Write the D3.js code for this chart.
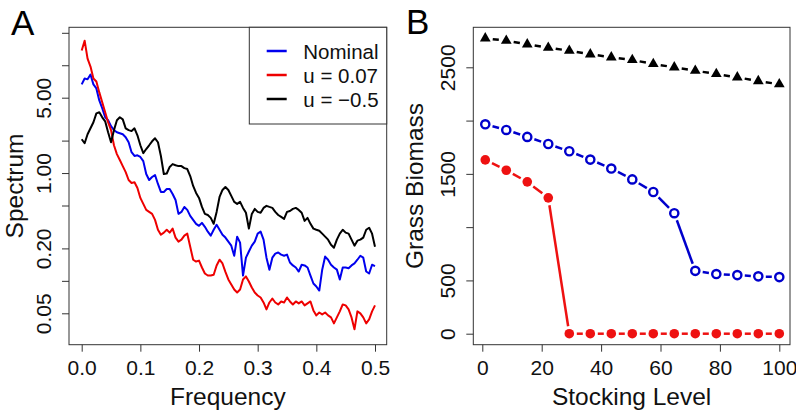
<!DOCTYPE html>
<html lang="en">
<head>
<meta charset="UTF-8">
<title>Spectrum and Grass Biomass</title>
<script src="https://d3js.org/d3.v7.min.js"></script>
<style>
  body { margin: 0; background: #fff; }
  svg { display: block; font-family: "Liberation Sans", Arial, sans-serif; }
  .tick line { stroke: #333; }
  .tick text { font-size: 21px; fill: #111; }
  .title { font-size: 24.5px; fill: #111; }
  .panel { font-size: 35px; fill: #000; }
  .legend text { font-size: 20.5px; fill: #111; }
</style>
</head>
<body>
<svg id="chart" width="796" height="412"></svg>
<script>
// Panel A: smoothed spectra (frequency grid 0 .. 0.5)
const freq = [0, .005, .01, .015, .02, .025, .03, .035, .04, .045,
  .05, .055, .06, .065, .07, .075, .08, .085, .09, .095,
  .1, .105, .11, .115, .12, .125, .13, .135, .14, .145,
  .15, .155, .16, .165, .17, .175, .18, .185, .19, .195,
  .2, .205, .21, .215, .22, .225, .23, .235, .24, .245,
  .25, .255, .26, .265, .27, .275, .28, .285, .29, .295,
  .3, .305, .31, .315, .32, .325, .33, .335, .34, .345,
  .35, .355, .36, .365, .37, .375, .38, .385, .39, .395,
  .4, .405, .41, .415, .42, .425, .43, .435, .44, .445,
  .45, .455, .46, .465, .47, .475, .48, .485, .49, .495, .5];

const specNominal = [6.64, 7.54, 7.4, 8.20, 6.64, 6.10, 4.72, 3.99, 3.29, 3.09,
  2.72, 2.50, 2.39, 2.34, 2.29, 2.15, 1.93, 1.56, 1.44, 1.46,
  1.41, 1.29, 0.98, 0.862, 0.919, 0.958, 0.792, 0.668, 0.668, 0.712,
  0.712, 0.640, 0.563, 0.418, 0.436, 0.485, 0.455, 0.401, 0.368, 0.338,
  0.324, 0.345, 0.317, 0.286, 0.263, 0.298, 0.331, 0.298, 0.268, 0.252,
  0.231, 0.212, 0.171, 0.257, 0.226, 0.112, 0.164, 0.187, 0.212, 0.231,
  0.274, 0.286, 0.241, 0.164, 0.127, 0.164, 0.179, 0.183, 0.175, 0.171,
  0.175, 0.148, 0.139, 0.133, 0.122, 0.141, 0.139, 0.133, 0.112, 0.0945,
  0.0886, 0.0813, 0.127, 0.168, 0.157, 0.141, 0.133, 0.127, 0.103, 0.133,
  0.133, 0.131, 0.139, 0.145, 0.157, 0.171, 0.164, 0.122, 0.117, 0.141,
  0.137];

const specU007 = [13.7, 16.9, 11.5, 9.73, 7.54, 7.07, 5.60, 4.53, 3.66, 2.96,
  2.50, 1.81, 1.50, 1.32, 1.16, 1.02, 0.862, 0.809, 0.82, 0.728,
  0.588, 0.517, 0.455, 0.436, 0.418, 0.368, 0.298, 0.268, 0.280, 0.298,
  0.280, 0.305, 0.252, 0.231, 0.241, 0.263, 0.274, 0.207, 0.157, 0.151,
  0.154, 0.133, 0.117, 0.112, 0.112, 0.114, 0.139, 0.157, 0.145, 0.121,
  0.103, 0.0924, 0.0831, 0.0780, 0.0831, 0.103, 0.110, 0.0986, 0.0868, 0.0780,
  0.0732, 0.0701, 0.0630, 0.0543, 0.0630, 0.0686, 0.0630, 0.0604, 0.0644, 0.0630,
  0.0701, 0.0644, 0.0604, 0.0644, 0.0618, 0.0644, 0.0592, 0.0618, 0.0644, 0.0532,
  0.0478, 0.0509, 0.0488, 0.0509, 0.0478, 0.0458, 0.0403, 0.0458, 0.0521, 0.0604,
  0.0592, 0.0543, 0.0458, 0.0355, 0.0521, 0.0499, 0.0458, 0.0403, 0.0439, 0.0521,
  0.0592];

const specUneg = [2.06, 1.89, 2.29, 2.60, 2.96, 3.58, 3.66, 3.29, 3.02, 2.39,
  1.93, 2.50, 3.09, 3.29, 3.15, 2.60, 2.50, 2.45, 2.60, 2.24,
  1.81, 1.53, 1.67, 1.81, 1.97, 2.10, 1.93, 1.44, 0.98, 0.99,
  1.14, 1.21, 1.18, 1.16, 1.16, 1.11, 1.09, 0.938, 0.759, 0.654,
  0.588, 0.485, 0.418, 0.408, 0.384, 0.338, 0.436, 0.600, 0.697, 0.743,
  0.697, 0.614, 0.540, 0.517, 0.540, 0.475, 0.428, 0.305, 0.418, 0.465,
  0.436, 0.428, 0.475, 0.496, 0.485, 0.475, 0.436, 0.408, 0.392, 0.376,
  0.436, 0.445, 0.465, 0.475, 0.455, 0.428, 0.360, 0.384, 0.338, 0.305,
  0.298, 0.292, 0.274, 0.257, 0.241, 0.216, 0.203, 0.241, 0.274, 0.298,
  0.280, 0.274, 0.241, 0.212, 0.236, 0.241, 0.252, 0.298, 0.311, 0.274,
  0.207];

const freqTicks = [0, 0.1, 0.2, 0.3, 0.4, 0.5];
const specTicks = [0.05, 0.1, 0.2, 0.5, 1, 2, 5, 10, 20];
const specLabels = {0.05: "0.05", 0.2: "0.20", 1: "1.00", 5: "5.00"};
const legendNames = ["Nominal", "u = 0.07", "u = \u22120.5"];

// Panel B: grass biomass against stocking level
const stocking = [1, 8.07, 15.14, 22.21, 29.29, 36.36, 43.43, 50.5, 57.57, 64.64, 71.71, 78.79, 85.86, 92.93, 100];
const biomassUneg = [2772, 2750, 2716, 2684, 2656, 2622, 2594, 2569, 2531, 2500, 2468, 2437, 2406, 2371, 2341];
const biomassNominal = [1965, 1912, 1847, 1780, 1712, 1634, 1550, 1448, 1330, 1131, 590, 560, 550, 538, 531];
const biomassU007 = [1631, 1534, 1425, 1275, 0, 0, 0, 0, 0, 0, 0, 0, 0, 0, 0];

const stockTicks = [0, 20, 40, 60, 80, 100];
const biomassTicks = [0, 500, 1000, 1500, 2000, 2500];
const biomassLabels = {0: "0", 500: "500", 1500: "1500", 2500: "2500"};

const svg = d3.select("#chart");

// ---------- Panel A ----------
const boxA = { left: 69, right: 386.7, top: 27.3, bottom: 344.7 };
const xA = d3.scaleLinear().domain([0, 0.5]).range([81.7, 375]);
const yA = d3.scaleLog().domain([0.05, 5]).range([313.3, 97.7]);

const gA = svg.append("g");

const lineA = d3.line()
  .x((d, i) => xA(freq[i]))
  .y(d => yA(d));

const seriesA = [
  { values: specNominal, color: "#0000ee" },
  { values: specU007, color: "#ee0000" },
  { values: specUneg, color: "#000000" }
];

gA.selectAll(".spec")
  .data(seriesA)
  .enter().append("path")
  .attr("class", "spec")
  .attr("d", s => lineA(s.values))
  .attr("fill", "none")
  .attr("stroke", s => s.color)
  .attr("stroke-width", 2)
  .attr("stroke-linejoin", "round");

gA.append("rect")
  .attr("x", boxA.left).attr("y", boxA.top)
  .attr("width", boxA.right - boxA.left).attr("height", boxA.bottom - boxA.top)
  .attr("fill", "none").attr("stroke", "#333").attr("stroke-width", 1);

const xAxisA = gA.append("g")
  .attr("transform", `translate(0,${boxA.bottom})`)
  .call(d3.axisBottom(xA).tickValues(freqTicks).tickFormat(d3.format(".1f")).tickSize(7));
xAxisA.select(".domain").remove();
xAxisA.selectAll("text").attr("y", 30.3).attr("dy", 0);

const yAxisA = gA.append("g")
  .attr("transform", `translate(${boxA.left},0)`)
  .call(d3.axisLeft(yA).tickValues(specTicks).tickFormat(d => specLabels[d] || "").tickSize(7));
yAxisA.select(".domain").remove();
yAxisA.selectAll("text")
  .attr("x", 0).attr("dy", 0)
  .attr("text-anchor", "middle")
  .attr("transform", "translate(-18.3,0) rotate(-90)");

gA.append("text").attr("class", "title")
  .attr("x", (boxA.left + boxA.right) / 2).attr("y", 405)
  .attr("text-anchor", "middle").text("Frequency");
gA.append("text").attr("class", "title")
  .attr("transform", `translate(22.5,${(boxA.top + boxA.bottom) / 2}) rotate(-90)`)
  .attr("text-anchor", "middle").text("Spectrum");
gA.append("text").attr("class", "panel").attr("x", 11).attr("y", 35).text("A");

// legend
const legend = gA.append("g").attr("class", "legend");
legend.append("rect")
  .attr("x", 249.3).attr("y", boxA.top)
  .attr("width", boxA.right - 249.3).attr("height", 124 - boxA.top)
  .attr("fill", "#fff").attr("stroke", "#333").attr("stroke-width", 1);
legendNames.forEach((name, i) => {
  const cy = 51 + i * 24;
  legend.append("line")
    .attr("x1", 266.7).attr("x2", 286.7).attr("y1", cy).attr("y2", cy)
    .attr("stroke", seriesA[i].color).attr("stroke-width", 2.5);
  legend.append("text").attr("x", 303.3).attr("y", cy + 7.8).text(name);
});

// ---------- Panel B ----------
const boxB = { left: 473.3, right: 790, top: 27.3, bottom: 344.7 };
const xB = d3.scaleLinear().domain([0, 100]).range([482.3, 779.3]);
const yB = d3.scaleLinear().domain([0, 2500]).range([333.7, 67.3]);

const gB = svg.append("g");

gB.append("rect")
  .attr("x", boxB.left).attr("y", boxB.top)
  .attr("width", boxB.right - boxB.left).attr("height", boxB.bottom - boxB.top)
  .attr("fill", "none").attr("stroke", "#333").attr("stroke-width", 1);

const seriesB = [
  { values: biomassUneg, color: "#000000", marker: "triangle" },
  { values: biomassNominal, color: "#0000cc", marker: "open" },
  { values: biomassU007, color: "#ee1111", marker: "dot" }
];

// lines with a gap round every point (R type = "b")
const gap = 7.5;
seriesB.forEach(s => {
  const pts = s.values.map((v, i) => [xB(stocking[i]), yB(v)]);
  const segs = d3.pairs(pts).map(([p, q]) => {
    const dx = q[0] - p[0], dy = q[1] - p[1];
    const len = Math.hypot(dx, dy);
    return [p[0] + dx * gap / len, p[1] + dy * gap / len,
            q[0] - dx * gap / len, q[1] - dy * gap / len];
  });
  gB.append("g").selectAll("line")
    .data(segs)
    .enter().append("line")
    .attr("x1", d => d[0]).attr("y1", d => d[1])
    .attr("x2", d => d[2]).attr("y2", d => d[3])
    .attr("stroke", s.color).attr("stroke-width", 2.5);

  const mk = gB.append("g").selectAll("path")
    .data(pts)
    .enter();
  if (s.marker === "triangle") {
    mk.append("path")
      .attr("d", d3.symbol(d3.symbolTriangle, 50))
      .attr("transform", d => `translate(${d[0]},${d[1]})`)
      .attr("fill", s.color);
  } else if (s.marker === "open") {
    mk.append("circle")
      .attr("cx", d => d[0]).attr("cy", d => d[1]).attr("r", 4.1)
      .attr("fill", "none").attr("stroke", s.color).attr("stroke-width", 2.4);
  } else {
    mk.append("circle")
      .attr("cx", d => d[0]).attr("cy", d => d[1]).attr("r", 4.8)
      .attr("fill", s.color);
  }
});

const xAxisB = gB.append("g")
  .attr("transform", `translate(0,${boxB.bottom})`)
  .call(d3.axisBottom(xB).tickValues(stockTicks).tickSize(7));
xAxisB.select(".domain").remove();
xAxisB.selectAll("text").attr("y", 30.3).attr("dy", 0);

const yAxisB = gB.append("g")
  .attr("transform", `translate(${boxB.left},0)`)
  .call(d3.axisLeft(yB).tickValues(biomassTicks).tickFormat(d => biomassLabels[d] || "").tickSize(7));
yAxisB.select(".domain").remove();
yAxisB.selectAll("text")
  .attr("x", 0).attr("dy", 0)
  .attr("text-anchor", "middle")
  .attr("transform", "translate(-18.3,0) rotate(-90)");

gB.append("text").attr("class", "title")
  .attr("x", (boxB.left + boxB.right) / 2).attr("y", 405)
  .attr("text-anchor", "middle").text("Stocking Level");
gB.append("text").attr("class", "title")
  .attr("transform", `translate(423.3,${(boxB.top + boxB.bottom) / 2}) rotate(-90)`)
  .attr("text-anchor", "middle").text("Grass Biomass");
gB.append("text").attr("class", "panel").attr("x", 406).attr("y", 34).text("B");
</script>
</body>
</html>
